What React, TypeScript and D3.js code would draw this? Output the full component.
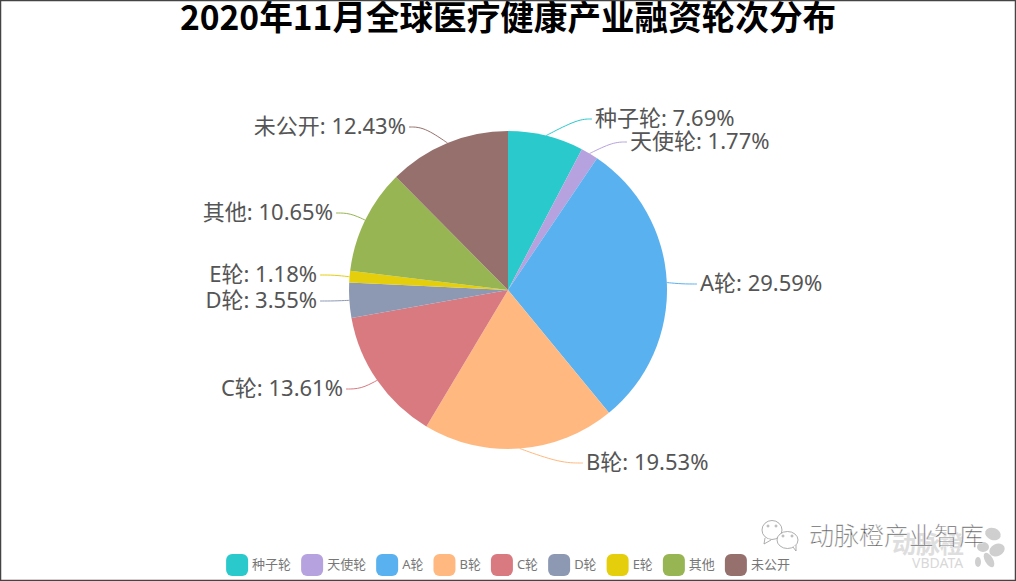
import React, { useEffect, useRef } from 'react';
import * as d3 from 'd3';

const categories = ['种子轮', '天使轮', 'A轮', 'B轮', 'C轮', 'D轮', 'E轮', '其他', '未公开'];
const shares = [7.69, 1.77, 29.59, 19.53, 13.61, 3.55, 1.18, 10.65, 12.43];
const colors = ['#2ac9cc', '#b6a2de', '#5ab1ef', '#ffb980', '#d87a80', '#8d98b3', '#e5cf0d', '#97b552', '#95706d'];

// where each label line bends and stops
const labelElbows = [[578, 119], [613, 142], [682, 284], [560, 463], [361, 389], [334, 301], [334, 275], [350, 213], [424, 127]];
const labelEnds = [[592, 119], [627, 142], [697, 284], [583, 463], [346, 389], [320, 301], [320, 275], [336, 213], [409, 127]];

const width = 1016;
const height = 581;
const cx = 508;
const cy = 290;
const radius = 159;
const cjkFont = '"Noto Sans CJK SC", sans-serif';
const labelFont = '"Noto Sans", "Noto Sans CJK SC", sans-serif';

const App = () => {
  const svgRef = useRef<SVGSVGElement>(null);

  useEffect(() => {
    const svg = d3.select(svgRef.current);
    svg.selectAll('*').remove();

    svg.append('rect').attr('width', width).attr('height', height).attr('fill', '#fff');

    // faint watermark behind the legend corner
    const mark = svg.append('g').attr('font-family', cjkFont).attr('fill', '#dedede');
    mark.append('text').attr('x', 892).attr('y', 553).attr('font-size', 24).attr('font-weight', 700).text('动脉橙');
    mark.append('text').attr('x', 912).attr('y', 568).attr('font-family', labelFont).attr('font-size', 14).attr('fill', '#d8d8d8').text('VBDATA');
    mark.selectAll('ellipse').data([[993, 534, 8, 6, 20], [997, 550, 8, 6, -25], [983, 547, 6, 5, 0], [978, 562, 3, 5, 0], [989, 560, 4, 8, -30]])
      .join('ellipse')
      .attr('rx', d => d[2]).attr('ry', d => d[3])
      .attr('transform', d => `translate(${d[0]},${d[1]}) rotate(${d[4]})`)
      .attr('fill', '#cfcfcf');

    svg.append('text')
      .attr('x', cx).attr('y', 30)
      .attr('text-anchor', 'middle')
      .attr('font-family', cjkFont)
      .attr('font-size', 33.6).attr('font-weight', 700).attr('fill', '#000')
      .text('2020年11月全球医疗健康产业融资轮次分布');

    const pie = d3.pie<number>().sort(null)(shares);
    const arc = d3.arc<d3.PieArcDatum<number>>().innerRadius(0).outerRadius(radius);
    const chart = svg.append('g');

    chart.selectAll('path.slice').data(pie).join('path')
      .attr('class', 'slice')
      .attr('transform', `translate(${cx},${cy})`)
      .attr('d', arc)
      .attr('fill', (_, i) => colors[i]);

    chart.selectAll('path.leader').data(pie).join('path')
      .attr('class', 'leader')
      .attr('fill', 'none')
      .attr('stroke', (_, i) => colors[i])
      .attr('stroke-width', 1)
      .attr('d', (d, i) => {
        const mid = (d.startAngle + d.endAngle) / 2;
        const start: [number, number] = [cx + radius * Math.sin(mid), cy - radius * Math.cos(mid)];
        return d3.line().curve(d3.curveBasis)([start, start, labelElbows[i] as [number, number], labelEnds[i] as [number, number], labelEnds[i] as [number, number]]);
      });

    chart.selectAll('text.label').data(pie).join('text')
      .attr('class', 'label')
      .attr('x', (_, i) => labelEnds[i][0] + (labelEnds[i][0] > cx ? 3 : -3))
      .attr('y', (_, i) => labelEnds[i][1] - 1)
      .attr('dy', '0.35em')
      .attr('text-anchor', (_, i) => labelEnds[i][0] > cx ? 'start' : 'end')
      .attr('font-family', labelFont)
      .attr('font-size', 22)
      .attr('fill', '#555')
      .text((d, i) => `${categories[i]}: ${d.data.toFixed(2)}%`);

    // legend, laid out from the measured label widths and centred
    const legend = svg.append('g').attr('font-family', labelFont).attr('font-size', 13).attr('fill', '#777');
    const items = legend.selectAll('g').data(categories).join('g');
    items.append('rect')
      .attr('y', 554).attr('width', 22).attr('height', 22).attr('rx', 6)
      .attr('fill', (_, i) => colors[i]);
    items.append('text')
      .attr('x', 26).attr('y', 564.5).attr('dy', '0.35em')
      .text(d => d);
    const widths: number[] = [];
    items.select('text').each(function () {
      widths.push(26 + (this as SVGTextElement).getComputedTextLength());
    });
    const total = d3.sum(widths) + 10 * (widths.length - 1);
    let x = cx - total / 2;
    items.attr('transform', (_, i) => {
      const at = x;
      x += widths[i] + 10;
      return `translate(${at},0)`;
    });

    // wechat signature over the watermark
    const sign = svg.append('g').attr('fill', '#fff').attr('stroke', '#999').attr('stroke-width', 0.8);
    sign.append('ellipse').attr('cx', 772).attr('cy', 530).attr('rx', 10).attr('ry', 9.5);
    sign.append('path').attr('d', 'M765,538 L764,544 L771,540');
    sign.append('ellipse').attr('cx', 787.5).attr('cy', 540).attr('rx', 10.5).attr('ry', 8.5);
    sign.append('path').attr('d', 'M793,547 L796,551 L796,545');
    sign.selectAll('circle').data([[768, 526], [776, 526], [783, 536], [792, 536]]).join('circle')
      .attr('cx', d => d[0]).attr('cy', d => d[1]).attr('r', 1)
      .attr('fill', 'none');
    sign.append('text')
      .attr('x', 809).attr('y', 545)
      .attr('font-family', cjkFont).attr('font-size', 25).attr('font-weight', 300)
      .attr('fill', '#555').attr('stroke', '#fff').attr('stroke-width', 0.4)
      .text('动脉橙产业智库');

    svg.append('rect')
      .attr('x', 0.5).attr('y', 0.5).attr('width', width - 1).attr('height', height - 1)
      .attr('fill', 'none').attr('stroke', '#444').attr('stroke-width', 1.5);
  }, []);

  return <svg ref={svgRef} width={width} height={height} style={{ position: 'absolute', left: 0, top: 0 }} />;
};

export default App;
